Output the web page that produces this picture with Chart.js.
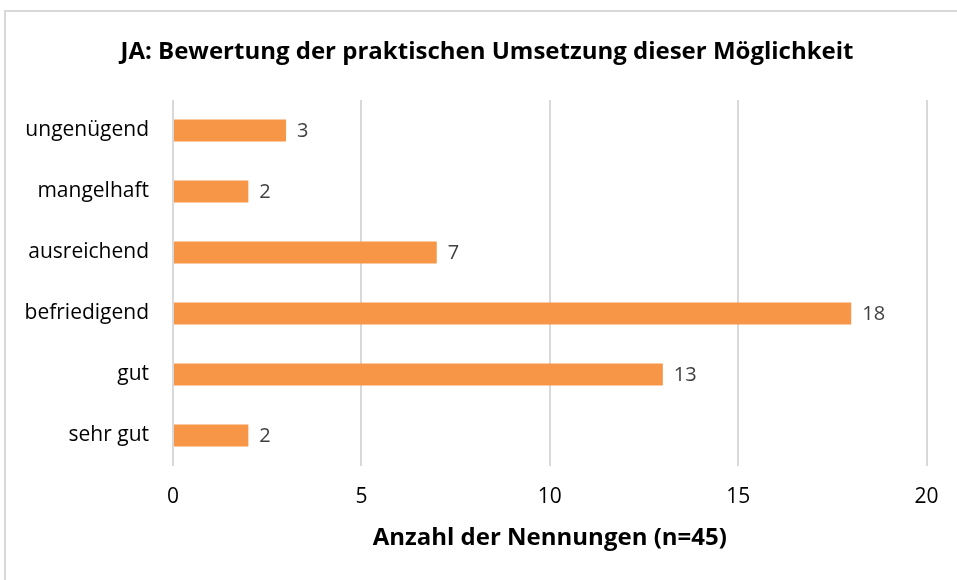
<!DOCTYPE html>
<html>
<head>
<meta charset="utf-8">
<script src="https://cdn.jsdelivr.net/npm/chart.js@4/dist/chart.umd.min.js"></script>
<style>
    html, body { margin: 0; padding: 0; background: #fff; }
    #wrap { position: relative; width: 957px; height: 580px; overflow: hidden; }
    #rahmen { position: absolute; left: 4px; top: 10px; width: 1000px; height: 1000px; border: 2px solid #d9d9d9; box-sizing: border-box; }
    canvas { position: absolute; left: 0; top: 0; }
</style>
</head>
<body>
<div id="wrap">
    <div id="rahmen"></div>
    <canvas id="chartBewertung" width="957" height="580"></canvas>
</div>
<script>
// Daten aus der Vorlage
const kategorien = ['ungenügend', 'mangelhaft', 'ausreichend', 'befriedigend', 'gut', 'sehr gut'];
const nennungen = [3, 2, 7, 18, 13, 2];
const achseMin = 0;
const achseMax = 20;
const achseSchritt = 5;

const titel = 'JA: Bewertung der praktischen Umsetzung dieser Möglichkeit';
const achsenTitel = 'Anzahl der Nennungen (n=45)';

const schrift = "'Open Sans', 'Noto Sans', sans-serif";

// Werte rechts neben den Balken
const wertBeschriftung = {
    id: 'wertBeschriftung',
    afterDatasetsDraw(chart) {
        const ctx = chart.ctx;
        const meta = chart.getDatasetMeta(0);
        ctx.save();
        ctx.font = '20px ' + schrift;
        ctx.fillStyle = '#404040';
        ctx.textAlign = 'left';
        ctx.textBaseline = 'middle';
        meta.data.forEach((bar, i) => {
            ctx.fillText(String(nennungen[i]), bar.x + 11, bar.y + 1);
        });
        ctx.restore();
    }
};

// Titel über der ganzen Fläche (leicht rechts der Mitte wie im Original)
const diagrammTitel = {
    id: 'diagrammTitel',
    afterDraw(chart) {
        const ctx = chart.ctx;
        ctx.save();
        ctx.font = 'bold 24px ' + schrift;
        ctx.fillStyle = '#000';
        ctx.textAlign = 'center';
        ctx.textBaseline = 'middle';
        ctx.fillText(titel, 487, 52);
        ctx.restore();
    }
};

const ctx = document.getElementById('chartBewertung').getContext('2d');
new Chart(ctx, {
    type: 'bar',
    data: {
        labels: kategorien,
        datasets: [{
            data: nennungen,
            backgroundColor: '#F79646',
            borderWidth: 0,
            barPercentage: 0.36,
            categoryPercentage: 1
        }]
    },
    options: {
        indexAxis: 'y',
        responsive: false,
        animation: false,
        layout: { padding: { left: 0, right: 30, top: 100, bottom: 27.6 } },
        plugins: {
            legend: { display: false },
            tooltip: { enabled: false },
            title: { display: false }
        },
        scales: {
            x: {
                min: achseMin,
                max: achseMax,
                afterFit: scale => { scale.height = 86.4; },
                ticks: {
                    stepSize: achseSchritt,
                    color: '#000',
                    padding: 18.4,
                    font: { family: schrift, size: 21 }
                },
                grid: { color: '#d9d9d9', lineWidth: 2, drawTicks: false },
                border: { display: false },
                title: {
                    display: true,
                    text: achsenTitel,
                    color: '#000',
                    font: { family: schrift, size: 24, weight: 'bold', lineHeight: 1.2 },
                    padding: { top: 14, bottom: 0 }
                }
            },
            y: {
                afterFit: scale => { scale.width = 173; },
                ticks: {
                    color: '#000',
                    padding: 24,
                    font: { family: schrift, size: 21 }
                },
                grid: { display: false, drawTicks: false },
                border: { display: false }
            }
        }
    },
    plugins: [wertBeschriftung, diagrammTitel]
});
</script>
</body>
</html>
